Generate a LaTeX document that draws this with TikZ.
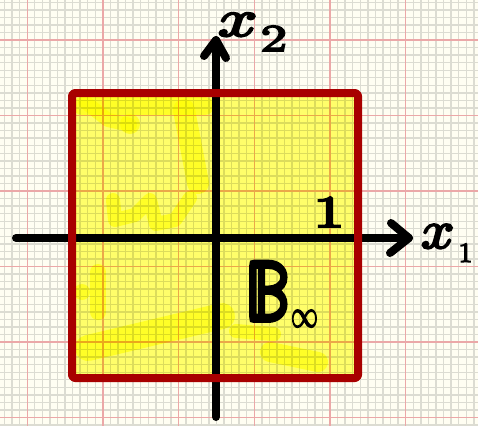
\documentclass[tikz,border=0pt]{standalone}
\usepackage{fontspec}
\usepackage{graphicx}
\newfontfamily\hw{latinmodern-math.otf}[FakeBold=4]
\newfontfamily\hwx{latinmodern-math.otf}[FakeBold=4]
\newfontfamily\hwb{latinmodern-math.otf}[FakeBold=7]
\definecolor{paper}{HTML}{FFFEF2}
\definecolor{minorline}{HTML}{DCDCD2}
\definecolor{majorline}{HTML}{EBA8A8}
\definecolor{boxred}{HTML}{A80000}
\definecolor{hlyellow}{HTML}{FFFF70}
\definecolor{hlstrong}{HTML}{FFFF60}
\begin{document}
\begin{tikzpicture}[x=1pt,y=-1pt,
  minorgrid/.style={draw=minorline,line width=1.4pt},
  majorgrid/.style={draw=majorline,line width=1.4pt},
  axis/.style={line width=8pt,line cap=round,line join=round,draw=black},
  border/.style={draw=boxred,line width=8pt,line join=round,line cap=round,rounded corners=3pt},
  hl/.style={draw=hlstrong,line cap=round,line join=round},
  lbl/.style={inner sep=0pt,outer sep=0pt,font=\hw,text=black}]
\useasboundingbox (0,0) rectangle (478,426);
\fill[paper] (0,0) rectangle (478,426);
% grid paper
\foreach \k in {-3,...,59} {\draw[minorgrid] ({27.2+\k*7.57},0) -- ({27.2+\k*7.57},426);}
\foreach \k in {-5,...,51} {\draw[minorgrid] (0,{40+\k*7.55}) -- (478,{40+\k*7.55});}
\foreach \k in {0,...,5} {\draw[majorgrid] ({27.2+\k*75.7},0) -- ({27.2+\k*75.7},426);}
\foreach \k in {0,...,5} {\draw[majorgrid] (0,{40+\k*75.5}) -- (478,{40+\k*75.5});}
% yellow highlight
\begin{scope}[blend mode=multiply]
\fill[hlyellow] (72,93) rectangle (358,378);
\clip (72,93) rectangle (358,378);
\draw[hl,line width=18pt] (82,106) -- (205,106);
\draw[hl,line width=14pt] (85,102) -- (108,120) -- (130,125);
\fill[hlstrong] (130,124) circle (10);
\draw[hl,line width=22pt] (184,110) -- (198,183);
\draw[hl,line width=14pt] (113,200) -- (115,220) -- (135,215) -- (150,200) -- (156,224) -- (175,220) -- (190,198);
\draw[hl,line width=16pt] (98,272) -- (98,312);
\fill[hlstrong] (82,292) circle (8);
\draw[hl,line width=26pt] (88,348) -- (222,316);
\draw[hl,line width=14pt] (236,331) -- (274,334);
\draw[hl,line width=20pt] (270,352) -- (318,362);
\end{scope}
% axes
\coordinate (xstart) at (16,238);
\coordinate (xtip) at (409,238);
\coordinate (ystart) at (216,417);
\coordinate (ytip) at (216,40);
\draw[axis] (xstart) -- (xtip);
\draw[axis] (391,223) -- (xtip) -- (390,253);
\draw[axis] (ystart) -- (ytip);
\draw[axis] (204,56) -- (ytip) -- (226,58);
% unit ball border
\draw[border] (72,378) -- (72,93) -- (358,93) -- (358,378) -- cycle;
% labels
\node[lbl,anchor=base west,text height=24pt,text depth=16pt] (x2) at (218,36)
  {{\hwx\fontsize{30}{30}\selectfont\scalebox{2.3}[1.75]{𝑥}}\hspace{3pt}\raisebox{-15pt}{\fontsize{38}{38}\selectfont\scalebox{1.4}[1]{2}}};
\node[lbl,anchor=base west,text height=24pt,text depth=15pt] (x1) at (421,248)
  {{\hwx\fontsize{30}{30}\selectfont\scalebox{1.95}[1.8]{𝑥}}\hspace{4pt}\raisebox{-14pt}{\fontsize{28}{28}\selectfont 1}};
\node[lbl,anchor=base,text height=30pt,text depth=0pt] (one) at (329,227)
  {\fontsize{45}{45}\selectfont\scalebox{1.4}[1]{1}};
\node[lbl,anchor=base west,text height=58pt,text depth=8pt] (ball) at (246,320)
  {{\hwb\fontsize{84}{84}\selectfont\scalebox{0.8}[1]{𝔹}}\hspace{2pt}\raisebox{-7pt}{\fontsize{30}{30}\selectfont\scalebox{0.9}[1.3]{∞}}};
\end{tikzpicture}
\end{document}
